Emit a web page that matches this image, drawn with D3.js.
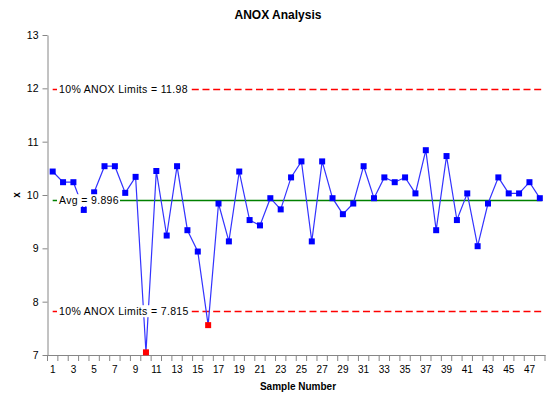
<!DOCTYPE html>
<html>
<head>
<meta charset="utf-8">
<script src="https://cdn.jsdelivr.net/npm/d3@7"></script>
<style>
  body { margin: 0; background: #fff; }
  svg { display: block; font-family: "Liberation Sans", Arial, sans-serif; }
  .axis path, .axis line { stroke: #868686; }
  .axis text { fill: #000; font-size: 10px; }
</style>
</head>
<body>
<div id="chart"></div>
<script>
// sample numbers on the x axis
const samples = [1, 2, 3, 4, 5, 6, 7, 8, 9, 10, 11, 12, 13, 14, 15, 16, 17, 18, 19, 20,
  21, 22, 23, 24, 25, 26, 27, 28, 29, 30, 31, 32, 33, 34, 35, 36, 37, 38, 39, 40,
  41, 42, 43, 44, 45, 46, 47, 48];
// measured x per sample
const values = [10.44, 10.24, 10.24, 9.72, 10.05, 10.54, 10.54, 10.04, 10.34, 7.05,
  10.45, 9.24, 10.54, 9.34, 8.94, 7.56, 9.84, 9.13, 10.44, 9.53,
  9.43, 9.94, 9.73, 10.33, 10.63, 9.13, 10.63, 9.94, 9.64, 9.84,
  10.54, 9.94, 10.33, 10.24, 10.33, 10.03, 10.84, 9.34, 10.73, 9.53,
  10.03, 9.04, 9.84, 10.33, 10.03, 10.03, 10.24, 9.94];
const yTicks = [7, 8, 9, 10, 11, 12, 13];
const avg = 9.896;
const upperLimit = 11.98;
const lowerLimit = 7.815;

const width = 550, height = 401;
const margin = {top: 35, right: 5, bottom: 46, left: 47.5};

const svg = d3.select('#chart').append('svg')
  .attr('width', width)
  .attr('height', height);

const x = d3.scaleBand()
  .domain(samples)
  .range([margin.left, width - margin.right]);

const y = d3.scaleLinear()
  .domain([7, 13])
  .range([height - margin.bottom, margin.top]);

const cx = d => x(d) + x.bandwidth() / 2;
const points = samples.map((s, i) => ({s, v: values[i]}));

// y axis
svg.append('g')
  .attr('class', 'axis')
  .attr('transform', `translate(${margin.left},0)`)
  .call(d3.axisLeft(y).tickValues(yTicks).tickFormat(d3.format('d'))
    .tickSize(5).tickPadding(4).tickSizeOuter(0))
  .call(g => g.selectAll('text').style('font-size', '10.5px'));

// x axis: labels on odd samples, ticks between categories
const xAxis = svg.append('g')
  .attr('class', 'axis')
  .attr('transform', `translate(0,${y(7)})`)
  .call(d3.axisBottom(x).tickValues(samples.filter(d => d % 2 === 1)).tickSize(0).tickPadding(11));

xAxis.selectAll('.bound')
  .data(samples.map(d => x(d)).concat([x.range()[1]]))
  .enter().append('line')
  .attr('class', 'bound')
  .attr('x1', d => d).attr('x2', d => d)
  .attr('y1', 0).attr('y2', 6);

const x0 = cx(samples[0]);
const x1 = cx(samples[samples.length - 1]) + 2;

// limit lines
svg.selectAll('line.limit')
  .data([upperLimit, lowerLimit])
  .enter().append('line')
  .attr('class', 'limit')
  .attr('x1', x0).attr('x2', x1)
  .attr('y1', d => y(d)).attr('y2', d => y(d))
  .attr('stroke', '#ff0000')
  .attr('stroke-width', 1.5)
  .attr('stroke-dasharray', '7,3.7');

svg.append('line')
  .attr('x1', x0).attr('x2', x1)
  .attr('y1', y(avg)).attr('y2', y(avg))
  .attr('stroke', '#008000')
  .attr('stroke-width', 1.5);

// data line
svg.append('path')
  .datum(points)
  .attr('fill', 'none')
  .attr('stroke', '#3333ff')
  .attr('stroke-width', 1.2)
  .attr('d', d3.line().x(d => cx(d.s)).y(d => y(d.v)));

svg.selectAll('rect.pt')
  .data(points)
  .enter().append('rect')
  .attr('class', 'pt')
  .attr('x', d => cx(d.s) - 3)
  .attr('y', d => y(d.v) - 3)
  .attr('width', 6)
  .attr('height', 6)
  .attr('fill', d => (d.v < lowerLimit || d.v > upperLimit) ? '#ff0000' : '#0000ff');

// line labels with white backing
const labels = [
  {v: upperLimit, t: '10% ANOX Limits = ' + upperLimit},
  {v: avg, t: 'Avg = ' + avg},
  {v: lowerLimit, t: '10% ANOX Limits = ' + lowerLimit}
];
const lab = svg.selectAll('g.lab')
  .data(labels)
  .enter().append('g')
  .attr('class', 'lab')
  .attr('transform', d => `translate(59,${y(d.v)})`);
const labText = lab.append('text')
  .attr('dy', '0.35em')
  .style('font-size', '10.5px')
  .style('letter-spacing', '0.35px')
  .text(d => d.t);
labText.each(function() {
  const b = this.getBBox();
  d3.select(this.parentNode).insert('rect', 'text')
    .attr('x', b.x - 2).attr('y', b.y)
    .attr('width', b.width + 3).attr('height', b.height)
    .attr('fill', '#fff');
});

// titles
svg.append('text')
  .attr('x', 278).attr('y', 19)
  .attr('text-anchor', 'middle')
  .style('font-size', '12px').style('font-weight', 'bold')
  .text('ANOX Analysis');

svg.append('text')
  .attr('x', 298).attr('y', 390)
  .attr('text-anchor', 'middle')
  .style('font-size', '10px').style('font-weight', 'bold')
  .text('Sample Number');

svg.append('text')
  .attr('transform', `translate(16,${y(10)}) rotate(-90)`)
  .attr('text-anchor', 'middle')
  .attr('dy', '0.35em')
  .style('font-size', '10px').style('font-weight', 'bold')
  .text('x');
</script>
</body>
</html>
